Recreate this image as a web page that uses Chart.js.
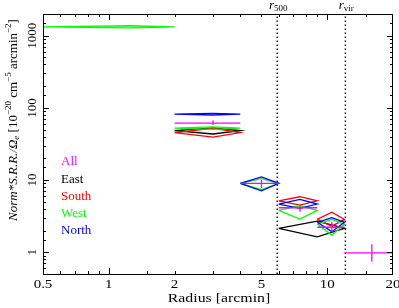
<!DOCTYPE html>
<html>
<head>
<meta charset="utf-8">
<script src="https://cdn.jsdelivr.net/npm/chart.js@4"></script>
<style>
  body { margin: 0; background: #fff; }
  canvas { display: block; }
</style>
</head>
<body>
<canvas id="sbChart" width="399" height="308"></canvas>
<script>
// tick labels
const xTickLabels = [0.5, 1, 2, 5, 10, 20];
const yTickLabels = [1, 10, 100, 1000];

// characteristic radii (arcmin)
const r500 = 5.9;
const rVir = 12.1;

// All (cross: bin range + error bar)
const allLo = [2, 4, 6, 9, 12];
const allHi = [4, 6, 9, 12, 20];
const allMid = [3, 5, 7.5, 10.5, 16];
const allY = [61.4, 9.0, 4.14, 2.22, 0.98];
const allYLo = [58, 7.8, 3.65, 1.9, 0.74];
const allYHi = [67, 10, 4.6, 2.65, 1.29];

// East
const eastLo = [2, 6];
const eastHi = [4, 12];
const eastMid = [3, 9];
const eastY = [48.6, 2.15];
const eastYLo = [43.5, 1.64];
const eastYHi = [53, 2.7];

// South
const southLo = [2, 6, 9];
const southHi = [4, 9, 12];
const southMid = [3, 7.5, 10.5];
const southY = [45.6, 5.17, 2.85];
const southYLo = [39.3, 4.5, 2.3];
const southYHi = [52, 5.88, 3.6];

// West
const westLo = [0.5, 2, 4, 6, 9];
const westHi = [2, 4, 6, 9, 12];
const westMid = [1.25, 3, 5, 7.5, 10.5];
const westY = [1330, 52.4, 9.0, 3.81, 2.44];
const westYLo = [1285, 50.5, 7.4, 2.89, 1.73];
const westYHi = [1375, 54.5, 10.5, 4.41, 2.86];

// North
const northLo = [2, 4, 6, 9];
const northHi = [4, 6, 9, 12];
const northMid = [3, 5, 7.5, 10.5];
const northY = [81.8, 9.0, 4.66, 2.6];
const northYLo = [79.5, 7.1, 4.07, 1.93];
const northYHi = [84, 11.1, 5.41, 3.01];

const legendNames = ['All', 'East', 'South', 'West', 'North'];
const legendColors = ['#ff00ff', '#000000', '#ff0000', '#00ff00', '#0000ff'];

// diamond box for each bin: (lo,y) (mid,yhi) (hi,y) (mid,ylo)
function diamonds(lo, hi, mid, y, yLo, yHi) {
    const pts = [];
    for (let i = 0; i < lo.length; i++) {
        pts.push({x: lo[i], y: y[i]}, {x: mid[i], y: yHi[i]}, {x: hi[i], y: y[i]},
                 {x: mid[i], y: yLo[i]}, {x: lo[i], y: y[i]}, {x: mid[i], y: null});
    }
    return pts;
}

// cross: horizontal bin width + vertical error
function crosses(lo, hi, mid, y, yLo, yHi) {
    const pts = [];
    for (let i = 0; i < lo.length; i++) {
        pts.push({x: lo[i], y: y[i]}, {x: hi[i], y: y[i]}, {x: mid[i], y: null},
                 {x: mid[i], y: yLo[i]}, {x: mid[i], y: yHi[i]}, {x: mid[i], y: null});
    }
    return pts;
}

function lineSet(data, color, extra) {
    return Object.assign({
        data: data,
        borderColor: color,
        borderWidth: 1.3,
        pointRadius: 0,
        tension: 0,
        fill: false,
        spanGaps: false
    }, extra || {});
}

const serif = '"Liberation Serif", "DejaVu Serif", serif';

// text squeezed/stretched horizontally
function wideText(ctx, txt, x, y, sx) {
    ctx.save();
    ctx.translate(x, y);
    ctx.scale(sx, 1);
    ctx.fillText(txt, 0, 0);
    ctx.restore();
}

// frame, inward ticks and all texts
const decorPlugin = {
    id: 'decor',
    afterDraw(chart) {
        const ctx = chart.ctx;
        const a = chart.chartArea;
        const xs = chart.scales.x, ys = chart.scales.y;
        ctx.save();
        ctx.strokeStyle = '#000';
        ctx.lineWidth = 1;
        ctx.strokeRect(Math.round(a.left) + 0.5, Math.round(a.top) + 0.5,
                       Math.round(a.right - a.left) - 1, Math.round(a.bottom - a.top));

        const isDecade = v => Math.abs(Math.log10(v) - Math.round(Math.log10(v))) < 1e-6;
        ctx.beginPath();
        xs.ticks.forEach(t => {
            const v = t.value;
            if (v <= xs.min || v >= xs.max) return;
            const px = Math.round(xs.getPixelForValue(v)) + 0.5;
            const len = isDecade(v) ? 6 : 3;
            ctx.moveTo(px, a.bottom); ctx.lineTo(px, a.bottom - len);
            ctx.moveTo(px, a.top); ctx.lineTo(px, a.top + len);
        });
        ys.ticks.forEach(t => {
            const v = t.value;
            if (v <= ys.min || v >= ys.max) return;
            const py = Math.round(ys.getPixelForValue(v)) + 0.5;
            const len = isDecade(v) ? 6 : 3;
            ctx.moveTo(a.left, py); ctx.lineTo(a.left + len, py);
            ctx.moveTo(a.right, py); ctx.lineTo(a.right - len, py);
        });
        ctx.stroke();

        ctx.fillStyle = '#000';
        ctx.font = '13px ' + serif;
        ctx.textAlign = 'center';
        ctx.textBaseline = 'middle';
        xTickLabels.forEach(v => {
            wideText(ctx, String(v), xs.getPixelForValue(v), a.bottom + 11, 1.15);
        });
        yTickLabels.forEach(v => {
            ctx.save();
            ctx.translate(a.left - 10, ys.getPixelForValue(v));
            ctx.rotate(-Math.PI / 2);
            ctx.fillText(String(v), 0, 0);
            ctx.restore();
        });

        wideText(ctx, 'Radius [arcmin]', (a.left + a.right) / 2 + 1, a.bottom + 25, 1.22);

        // y title
        const segs = [
            ['Norm*S.R.R./Ω', 'italic 13px', 0],
            ['e', 'italic 9px', 3],
            [' [10', '13px', 0],
            ['−20', '9px', -5],
            [' cm', '13px', 0],
            ['−5', '9px', -5],
            [' arcmin', '13px', 0],
            ['−2', '9px', -5],
            [']', '13px', 0]
        ];
        ctx.save();
        ctx.translate(14, 120);
        ctx.rotate(-Math.PI / 2);
        drawRich(ctx, segs, 0, 0);
        ctx.restore();

        // legend texts
        ctx.textAlign = 'left';
        ctx.font = '13px ' + serif;
        legendNames.forEach((n, i) => {
            ctx.fillStyle = legendColors[i];
            ctx.fillText(n, a.left + 18, 162 + i * 17.2);
        });

        // r500 / rvir labels
        ctx.fillStyle = '#000';
        drawRich(ctx, [['r', 'italic 13px', 0], ['500', '9px', 3]], xs.getPixelForValue(r500) + 1, 6);
        drawRich(ctx, [['r', 'italic 13px', 0], ['vir', '9px', 3]], xs.getPixelForValue(rVir) + 1, 6);
        ctx.restore();
    }
};

function drawRich(ctx, segs, cx, cy) {
    let total = 0;
    segs.forEach(s => { ctx.font = s[1] + ' ' + serif; total += ctx.measureText(s[0]).width; });
    let x = cx - total / 2;
    ctx.textAlign = 'left';
    ctx.textBaseline = 'middle';
    segs.forEach(s => {
        ctx.font = s[1] + ' ' + serif;
        ctx.fillText(s[0], x, cy + s[2]);
        x += ctx.measureText(s[0]).width;
    });
}

const dotted = {borderDash: [1.5, 2.5], borderWidth: 1.3};

new Chart(document.getElementById('sbChart'), {
    type: 'line',
    data: {
        datasets: [
            lineSet(crosses(allLo, allHi, allMid, allY, allYLo, allYHi), legendColors[0]),
            lineSet(diamonds(northLo, northHi, northMid, northY, northYLo, northYHi), legendColors[4]),
            lineSet(diamonds(westLo, westHi, westMid, westY, westYLo, westYHi), legendColors[3]),
            lineSet(diamonds(southLo, southHi, southMid, southY, southYLo, southYHi), legendColors[2]),
            lineSet(diamonds(eastLo, eastHi, eastMid, eastY, eastYLo, eastYHi), legendColors[1]),
            lineSet([{x: r500, y: 0.5}, {x: r500, y: 2000}], '#000', dotted),
            lineSet([{x: rVir, y: 0.5}, {x: rVir, y: 2000}], '#000', dotted)
        ]
    },
    options: {
        responsive: false,
        animation: false,
        layout: {padding: {left: 43, right: 6, top: 14, bottom: 34}},
        plugins: {legend: {display: false}, tooltip: {enabled: false}},
        scales: {
            x: {
                type: 'logarithmic', min: 0.5, max: 20, display: false,
                ticks: {autoSkip: false}
            },
            y: {
                type: 'logarithmic', min: 0.5, max: 2000, display: false,
                ticks: {autoSkip: false}
            }
        }
    },
    plugins: [decorPlugin]
});
</script>
</body>
</html>
